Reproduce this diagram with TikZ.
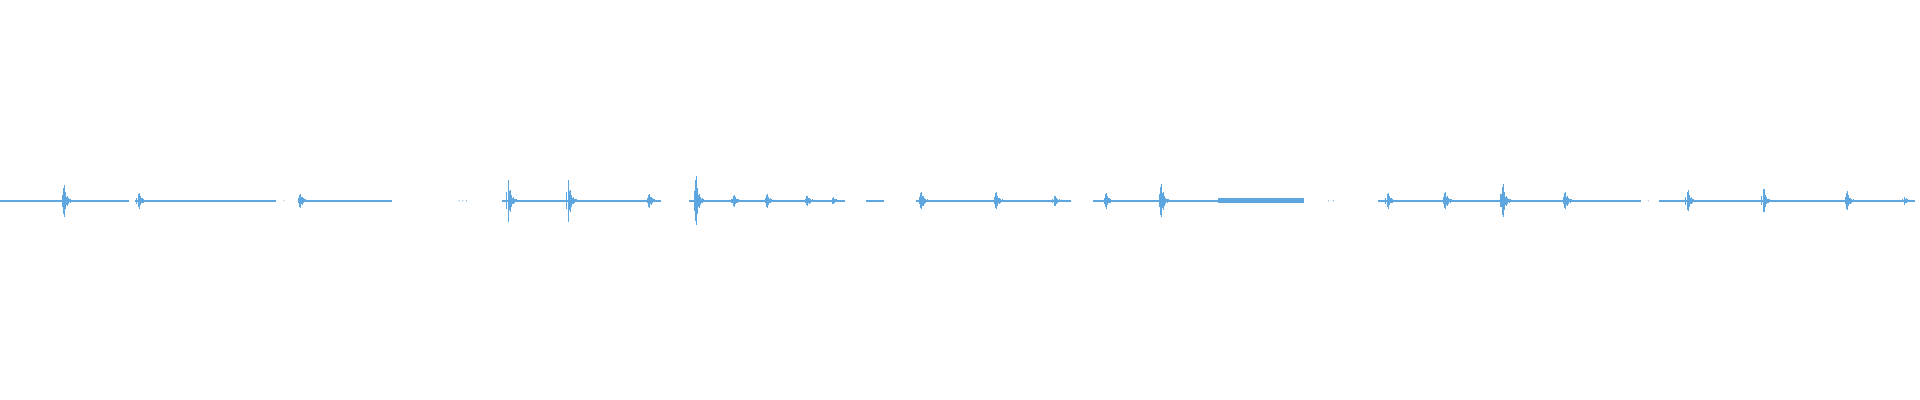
\documentclass[tikz,border=0pt]{standalone}
\definecolor{wave}{RGB}{93,166,224}
\tikzset{trace/.style={draw=wave,line width=0.3pt}, noise/.style={draw=wave,line width=0.5pt}}
\newcommand{\burst}[2]{%
  \foreach \i in {0,...,14} {
    \pgfmathsetmacro\hh{#2*0.72^\i*(0.6+0.4*mod(\i,2))+0.6}
    \draw[trace] (#1+\i*0.6,162.6-\hh) -- (#1+\i*0.6,162.6+\hh);
  }
  \draw[trace] (#1-1.2,162.6-#2*0.3) -- (#1-1.2,162.6+#2*0.3);
}
\begin{document}
\begin{tikzpicture}[x=0.12245mm,y=0.12245mm]
\useasboundingbox (0,0) rectangle (1568,326.6);
% quiet stretches
\foreach \a/\b in {0/105,110/225,243/320,410/540,563/690,707/722,748/875,893/1065,1125/1340,1355/1562}
  \draw[noise] (\a,162.6) -- (\b,162.6);
\foreach \d in {232,375,378,381,1085,1089,1346}
  \fill[wave] (\d,162.6) circle (0.5);
\draw[wave,line width=1.4pt] (995,162.6) -- (1065,162.6);
% bursts
\foreach \x/\h in {52/17,113/8,245/7,415/23,464/23,530/7,568/27,599/6,626/7,659/5,680/3,752/9,813/9,861/5,903/8,948/18,1133/8,1180/9,1227/18,1278/9,1378/11,1440/12,1508/10,1555/4}
  {\burst{\x}{\h}}
\end{tikzpicture}
\end{document}
